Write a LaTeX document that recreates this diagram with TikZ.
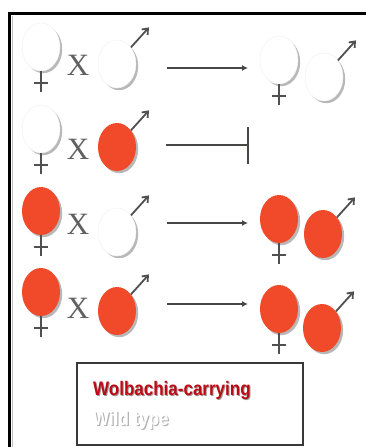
\documentclass[tikz,border=0pt]{standalone}
\usepackage{fontspec}
\setmainfont{Liberation Serif}
\newfontfamily\legfont{Liberation Sans}
\usetikzlibrary{shapes.geometric,shadows,arrows.meta}
\definecolor{wred}{RGB}{240,74,42}
\definecolor{symgray}{RGB}{80,80,80}
\definecolor{arrgray}{RGB}{70,72,70}
\definecolor{legred}{RGB}{190,10,20}
\begin{document}
\begin{tikzpicture}[x=1pt,y=-1pt,
  org/.style={ellipse, minimum width=38pt, minimum height=48pt, inner sep=0pt,
    drop shadow={shadow xshift=2.2pt, shadow yshift=-2.2pt, fill=black, opacity=0.28}},
  wt/.style={org, fill=white, draw=gray!12},
  wo/.style={org, fill=wred},
  sym/.style={symgray, line width=1.8pt},
  marrow/.style={sym, -{Straight Barb[length=5pt,width=8pt]}},
  cross/.style={font=\fontsize{31}{31}\selectfont, text=gray!75!black, inner sep=0pt},
  arr/.style={arrgray, line width=1.6pt, -{Latex[length=6pt,width=6pt]}},
  legbox/.style={draw=gray!45!black, line width=1.3pt}
]
\path[use as bounding box, fill=white] (0,0) rectangle (366,447);
% frame
\fill[black] (8,12) rectangle (366,15);
\fill[black] (8,12) rectangle (11,447);
\fill[gray!50] (12,16) rectangle (13,447);

% Row 1
\node[wt] (f1) at (41,47) {};
\node[cross] (x1) at (78,65) {X};
\node[wt] (m1) at (117,64) {};
\coordinate (a1s) at (167,68);
\coordinate (a1e) at (248,68);
\node[wt] (r1f) at (279,60) {};
\node[wt] (r1m) at (324,77) {};
% Row 2
\node[wt] (f2) at (41,129) {};
\node[cross] (x2) at (78,149) {X};
\node[wo] (m2) at (117,147) {};
\coordinate (a2s) at (166,145);
\coordinate (a2e) at (248,145);
% Row 3
\node[wo] (f3) at (41,211) {};
\node[cross] (x3) at (78,224) {X};
\node[wt] (m3) at (117,232) {};
\coordinate (a3s) at (167,223);
\coordinate (a3e) at (248,223);
\node[wo] (r3f) at (279,219) {};
\node[wo] (r3m) at (323,234) {};
% Row 4
\node[wo] (f4) at (41,292) {};
\node[cross] (x4) at (78,308) {X};
\node[wo] (m4) at (117,311) {};
\coordinate (a4s) at (167,304);
\coordinate (a4e) at (248,304);
\node[wo] (r4f) at (279,309) {};
\node[wo] (r4m) at (322,328) {};

% female crosses
\foreach \n in {f1,r1f,f2,f3,r3f,f4,r4f}{
  \draw[sym] (\n.south) -- ++(0,21);
  \draw[sym] ([shift={(-7,12)}]\n.south) -- ++(14,0);
}
% male arrows
\foreach \n in {m1,r1m,m2,m3,r3m,m4,r4m}{
  \draw[marrow] (\n.50) -- ++(18,-20);
}

% cross arrows
\draw[arr] (a1s) -- (a1e);
\draw[arrgray, line width=1.6pt] (a2s) -- (a2e);
\draw[arrgray, line width=1.6pt] ([yshift=-19pt]a2e) -- ([yshift=18pt]a2e);
\draw[arr] (a3s) -- (a3e);
\draw[arr] (a4s) -- (a4e);

% legend
\draw[legbox] (77,363) rectangle (303,445);
\node[anchor=base west, inner sep=0pt, text=black!40, font=\legfont\bfseries\fontsize{17}{17}\selectfont, yscale=1.15] (l1s) at (94,396) {Wolbachia-carrying};
\node[anchor=base west, inner sep=0pt, text=legred, font=\legfont\bfseries\fontsize{17}{17}\selectfont, yscale=1.15] (l1) at (93,395) {Wolbachia-carrying};
\node[anchor=base west, inner sep=0pt, text=black!30, font=\legfont\bfseries\fontsize{17}{17}\selectfont, yscale=1.15] (l2s) at (94.2,426.2) {Wild type};
\node[anchor=base west, inner sep=0pt, text=white, font=\legfont\bfseries\fontsize{17}{17}\selectfont, yscale=1.15] (l2) at (93,425) {Wild type};
% keep the right edge clear
\fill[white] (358,16) rectangle (366,447);
\end{tikzpicture}
\end{document}
